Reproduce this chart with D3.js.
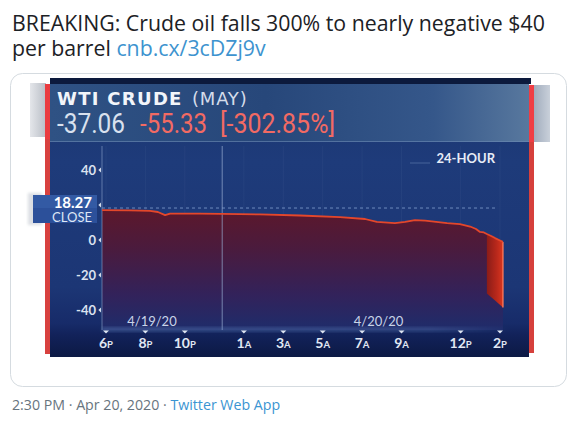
<!DOCTYPE html>
<html>
<head>
<meta charset="utf-8">
<script src="https://cdnjs.cloudflare.com/ajax/libs/d3/7.8.5/d3.min.js"></script>
<style>
body { margin: 0; background: #fff; }
svg { display: block; }
</style>
</head>
<body>
<svg width="576" height="427"></svg>
<script>
'use strict';

// WTI crude (May contract), 24-hour session
const priceTimes = [
	"2020-04-19 17:48", "2020-04-19 19:13", "2020-04-19 20:14", "2020-04-19 20:38",
	"2020-04-19 21:00", "2020-04-19 21:15", "2020-04-19 22:46", "2020-04-19 23:53",
	"2020-04-20 01:49", "2020-04-20 03:51", "2020-04-20 05:53", "2020-04-20 07:09",
	"2020-04-20 07:45", "2020-04-20 08:40", "2020-04-20 09:11", "2020-04-20 09:41",
	"2020-04-20 10:12", "2020-04-20 11:19", "2020-04-20 11:58", "2020-04-20 12:29",
	"2020-04-20 12:47", "2020-04-20 12:59", "2020-04-20 13:11", "2020-04-20 13:20",
	"2020-04-20 13:33", "2020-04-20 13:45", "2020-04-20 14:00", "2020-04-20 14:09"
];
const priceValues = [
	17.1, 16.9, 16.6, 16.0,
	14.2, 15.1, 15.1, 14.9,
	14.6, 14.0, 13.1, 12.0,
	10.3, 9.7, 10.3, 11.4,
	11.1, 9.7, 9.1, 7.7,
	6.3, 4.6, 4.3, 3.4,
	2.3, 1.1, -0.3, -1.1
];

// the collapse: price range over the last minutes
const dropTimes = ["2020-04-20 13:20", "2020-04-20 13:45", "2020-04-20 14:09"];
const dropHigh = [3.4, 1.1, -1.1];
const dropLow = [-30.5, -34.5, -38.5];

const closeValue = 18.27;
const dayBreak = "2020-04-20 00:00";

const yTicks = [40, 20, 0, -20, -40];
const xTickTimes = [
	"2020-04-19 18:00", "2020-04-19 20:00", "2020-04-19 22:00", "2020-04-20 01:00",
	"2020-04-20 03:00", "2020-04-20 05:00", "2020-04-20 07:00", "2020-04-20 09:00",
	"2020-04-20 12:00", "2020-04-20 14:00"
];
const xTickLabels = ["6P", "8P", "10P", "1A", "3A", "5A", "7A", "9A", "12P", "2P"];
const dateLabels = ["4/19/20", "4/20/20"];
const dateLabelTimes = ["2020-04-19 20:20", "2020-04-20 07:50"];

const quoteLast = "-37.06";
const quoteChange = "-55.33";
const quotePct = "[-302.85%]";

const parse = d3.timeParse("%Y-%m-%d %H:%M");

const svg = d3.select("svg");
const defs = svg.append("defs");

function gradient(id, attrs, stops) {
	const g = defs.append("linearGradient").attr("id", id);
	Object.entries(attrs).forEach(([k, v]) => g.attr(k, v));
	stops.forEach(s => g.append("stop").attr("offset", s[0]).attr("stop-color", s[1]).attr("stop-opacity", s[2] == null ? 1 : s[2]));
}

gradient("panelGrad", {x1: 0, y1: 0, x2: 0, y2: 1}, [
	[0, "#1b356f"], [0.3, "#1e3b7a"], [0.75, "#1c3675"], [0.88, "#172b69"], [0.92, "#12225a"], [1, "#0c1944"]
]);
gradient("headGrad", {x1: 0, y1: 0, x2: 1, y2: 0}, [
	[0, "#2f5284"], [0.45, "#27477a"], [0.8, "#35578a"], [1, "#58789e"]
]);
gradient("fillGrad", {gradientUnits: "userSpaceOnUse", x1: 0, y1: 205, x2: 0, y2: 332}, [
	[0, "#5e1729"], [0.35, "#4a1b3e"], [0.7, "#33225a"], [1, "#1d2d6c"]
]);
gradient("dropGrad", {x1: 0, y1: 0, x2: 1, y2: 0}, [
	[0, "#8a1c18"], [0.6, "#b8281b"], [1, "#d8361f"]
]);
gradient("glowGrad", {x1: 0, y1: 0, x2: 1, y2: 0}, [
	[0, "#6f92cc", 0.9], [0.8, "#6f92cc", 0.7], [1, "#6f92cc", 0]
]);
gradient("grayL", {x1: 0, y1: 0, x2: 1, y2: 0}, [
	[0, "#e4e6ea"], [1, "#b9bec6"]
]);
gradient("grayR", {x1: 0, y1: 0, x2: 1, y2: 0}, [
	[0, "#9eaabb"], [1, "#c9d0da"]
]);
defs.append("filter").attr("id", "blur").append("feGaussianBlur").attr("stdDeviation", 1.6);
defs.append("filter").attr("id", "soft").append("feGaussianBlur").attr("stdDeviation", 0.5);

// ---- tweet frame ----
const tweetFont = "'Open Sans', 'Noto Sans', sans-serif";
const tweet = svg.append("text")
	.attr("x", 12).attr("y", 31)
	.attr("font-family", tweetFont).attr("font-size", 21.3)
	.attr("fill", "#1c2125");
tweet.append("tspan").text("BREAKING: Crude oil falls 300% to nearly negative $40");
tweet.append("tspan").attr("x", 12).attr("dy", 25).text("per barrel ");
tweet.append("tspan").attr("fill", "#3d93cf").text("cnb.cx/3cDZj9v");

svg.append("rect")
	.attr("x", 10.5).attr("y", 73.5).attr("width", 556).attr("height", 313)
	.attr("rx", 12).attr("fill", "none").attr("stroke", "#d5dbe0");

const foot = svg.append("text")
	.attr("x", 12).attr("y", 410)
	.attr("font-family", tweetFont).attr("font-size", 14.2)
	.attr("fill", "#68747e")
	.text("2:30 PM \u00b7 Apr 20, 2020 \u00b7 ");
foot.append("tspan").attr("fill", "#3a95d2").text("Twitter Web App");

// ---- CNBC panel ----
const panel = svg.append("g");
panel.append("rect").attr("x", 30).attr("y", 83).attr("width", 16).attr("height", 54).attr("fill", "url(#grayL)");
panel.append("rect").attr("x", 533).attr("y", 85).attr("width", 17).attr("height", 57).attr("fill", "url(#grayR)");
panel.append("rect").attr("x", 50).attr("y", 78).attr("width", 479).attr("height", 279).attr("fill", "url(#panelGrad)");
panel.append("rect").attr("x", 50).attr("y", 78).attr("width", 481).attr("height", 6).attr("fill", "#0c1a3d");
panel.append("rect").attr("x", 45).attr("y", 84).attr("width", 5).attr("height", 270).attr("fill", "#d8413f");
panel.append("rect").attr("x", 45).attr("y", 84).attr("width", 5).attr("height", 55).attr("fill", "#ea3b3f");
panel.append("rect").attr("x", 529).attr("y", 85).attr("width", 5).attr("height", 268).attr("fill", "#d6403c");
panel.append("rect").attr("x", 529).attr("y", 85).attr("width", 5).attr("height", 57).attr("fill", "#ef3e45");

// header banner
panel.append("rect").attr("x", 50).attr("y", 84).attr("width", 479).attr("height", 58).attr("fill", "url(#headGrad)");
panel.append("line").attr("x1", 50).attr("x2", 529).attr("y1", 141.5).attr("y2", 141.5)
	.attr("stroke", "#6d8bb4").attr("stroke-opacity", 0.6);

const head = panel.append("text")
	.attr("x", 57).attr("y", 105)
	.attr("font-family", "'DejaVu Sans', sans-serif").attr("font-size", 18)
	.attr("fill", "#f2f5fa");
head.append("tspan").attr("font-weight", "bold").attr("letter-spacing", 1.3).text("WTI CRUDE");
head.append("tspan").attr("x", 192).attr("fill", "#d4dcea").attr("letter-spacing", 0.8).text("(MAY)");

// quote line, squeezed to the narrow broadcast face
const quoteFont = "Roboto, 'Open Sans', sans-serif";
const quotes = [
	{text: quoteLast, x: 57, w: 68, fill: "#d9e1ee"},
	{text: quoteChange, x: 140, w: 67, fill: "#f26a63"},
	{text: quotePct, x: 220, w: 115, fill: "#f26a63"}
];
panel.selectAll(".quote").data(quotes).enter().append("text")
	.attr("x", d => d.x).attr("y", 133)
	.attr("font-family", quoteFont).attr("font-size", 27)
	.attr("textLength", d => d.w).attr("lengthAdjust", "spacingAndGlyphs")
	.attr("fill", d => d.fill)
	.text(d => d.text);

// ---- scales ----
const x = d3.scaleTime()
	.domain([parse(xTickTimes[0]), parse(xTickTimes[xTickTimes.length - 1])])
	.range([106, 500]);
const y = d3.scaleLinear().domain([-40, 40]).range([310, 170]);
const plotTop = 146, plotBottom = 330;

const price = priceTimes.map((t, i) => ({t: parse(t), v: priceValues[i]}));
const drop = dropTimes.map((t, i) => ({t: parse(t), hi: dropHigh[i], lo: dropLow[i]}));

const plot = panel.append("g");

// faint grid
plot.selectAll(".grid").data(xTickTimes).enter().append("line")
	.attr("x1", d => x(parse(d))).attr("x2", d => x(parse(d)))
	.attr("y1", plotTop).attr("y2", plotBottom)
	.attr("stroke", "#7d96c4").attr("stroke-opacity", 0.08);

// area under the line
plot.append("path").datum(price)
	.attr("fill", "url(#fillGrad)")
	.attr("d", d3.area().x(d => x(d.t)).y0(plotBottom).y1(d => y(d.v)));

// axis lines
plot.append("line").attr("x1", 102).attr("x2", 102).attr("y1", plotTop).attr("y2", plotBottom)
	.attr("stroke", "#8ea4cc").attr("stroke-opacity", 0.6);
plot.append("line")
	.attr("x1", x(parse(dayBreak)) - 2).attr("x2", x(parse(dayBreak)) - 2)
	.attr("y1", plotTop).attr("y2", plotBottom)
	.attr("stroke", "#97acd2").attr("stroke-opacity", 0.7);

// baseline glow
plot.append("rect").attr("x", 102).attr("y", plotBottom - 3).attr("width", 410).attr("height", 5)
	.attr("fill", "url(#glowGrad)").attr("opacity", 0.35).attr("filter", "url(#blur)");
plot.append("line").attr("x1", 102).attr("x2", 505).attr("y1", plotBottom).attr("y2", plotBottom)
	.attr("stroke", "url(#glowGrad)").attr("stroke-width", 1.2);

// close reference line
plot.append("line")
	.attr("x1", 102).attr("x2", x(price[price.length - 1].t) - 6)
	.attr("y1", y(closeValue)).attr("y2", y(closeValue))
	.attr("stroke", "#8aa6d4").attr("stroke-opacity", 0.75)
	.attr("stroke-dasharray", "3,3");

// collapse band
plot.append("path").datum(drop)
	.attr("fill", "url(#dropGrad)")
	.attr("d", d3.area().x(d => x(d.t)).y0(d => y(d.lo)).y1(d => y(d.hi)));
const lastDrop = drop[drop.length - 1];
plot.append("line")
	.attr("x1", x(lastDrop.t)).attr("x2", x(lastDrop.t))
	.attr("y1", y(lastDrop.hi)).attr("y2", y(lastDrop.lo))
	.attr("stroke", "#ff7a5a").attr("stroke-width", 1.3);

// price line
plot.append("path").datum(price)
	.attr("fill", "none")
	.attr("stroke", "#e4462c").attr("stroke-width", 1.8)
	.attr("stroke-linejoin", "round")
	.attr("filter", "url(#soft)")
	.attr("d", d3.line().x(d => x(d.t)).y(d => y(d.v)));

// y axis: the label next to the close box is hidden behind it
const labelFont = "Lato, 'Open Sans', sans-serif";
const yAxis = plot.append("g");
yAxis.selectAll("text").data(yTicks.filter(d => Math.abs(d - closeValue) > 8)).enter().append("text")
	.attr("x", 96).attr("y", d => y(d) + 4.5)
	.attr("text-anchor", "end")
	.attr("font-family", labelFont).attr("font-weight", "bold").attr("font-size", 13)
	.attr("fill", "#dbe2ef")
	.text(d => d);
yAxis.selectAll("path").data(yTicks).enter().append("path")
	.attr("d", d => `M101,${y(d) - 2.5}L98.3,${y(d)}L101,${y(d) + 2.5}Z`)
	.attr("fill", "#d2dbeb");

// x axis labels
const xAxis = plot.append("g");
xAxis.selectAll("path").data(xTickTimes).enter().append("path")
	.attr("d", d => { const px = x(parse(d)); return `M${px - 3},${plotBottom + 0.5}L${px + 3},${plotBottom + 0.5}L${px},${plotBottom + 3.5}Z`; })
	.attr("fill", "#dfe6f2");
const xt = xAxis.selectAll("text").data(xTickTimes).enter().append("text")
	.attr("x", d => x(parse(d))).attr("y", 348)
	.attr("text-anchor", "middle")
	.attr("font-family", labelFont).attr("font-weight", "bold")
	.attr("fill", "#e1e8f4");
xt.append("tspan").attr("font-size", 14).text((d, i) => xTickLabels[i].slice(0, -1));
xt.append("tspan").attr("font-size", 9.5).text((d, i) => xTickLabels[i].slice(-1));

plot.selectAll(".date").data(dateLabels).enter().append("text")
	.attr("x", (d, i) => x(parse(dateLabelTimes[i]))).attr("y", 326)
	.attr("text-anchor", "middle")
	.attr("font-family", labelFont).attr("font-size", 13)
	.attr("fill", "#c9d4e8")
	.text(d => d);

// 24-hour tag
plot.append("line").attr("x1", 410).attr("x2", 430).attr("y1", 163).attr("y2", 163)
	.attr("stroke", "#6f8bbb").attr("stroke-opacity", 0.5);
plot.append("text").attr("x", 495).attr("y", 163)
	.attr("text-anchor", "end")
	.attr("font-family", labelFont).attr("font-weight", "bold").attr("font-size", 13)
	.attr("fill", "#e6ecf6")
	.text("24-HOUR");

// close box
const box = panel.append("g");
box.append("rect").attr("x", 28).attr("y", 193).attr("width", 14).attr("height", 32)
	.attr("fill", "#9aa3b0").attr("opacity", 0.35).attr("filter", "url(#blur)");
box.append("rect").attr("x", 33).attr("y", 195).attr("width", 64).attr("height", 28)
	.attr("fill", "#2c509a");
box.append("rect").attr("x", 33).attr("y", 195).attr("width", 64).attr("height", 13)
	.attr("fill", "#3a63ad").attr("opacity", 0.5);
const closeText = box.append("text")
	.attr("x", 92).attr("y", 208)
	.attr("text-anchor", "end")
	.attr("font-family", labelFont);
closeText.append("tspan")
	.attr("font-weight", "bold").attr("font-size", 15).attr("fill", "#ffffff")
	.text(d3.format(".2f")(closeValue));
closeText.append("tspan")
	.attr("x", 92).attr("dy", 13.5)
	.attr("font-size", 13).attr("fill", "#dfe7f5")
	.text("CLOSE");
</script>
</body>
</html>
